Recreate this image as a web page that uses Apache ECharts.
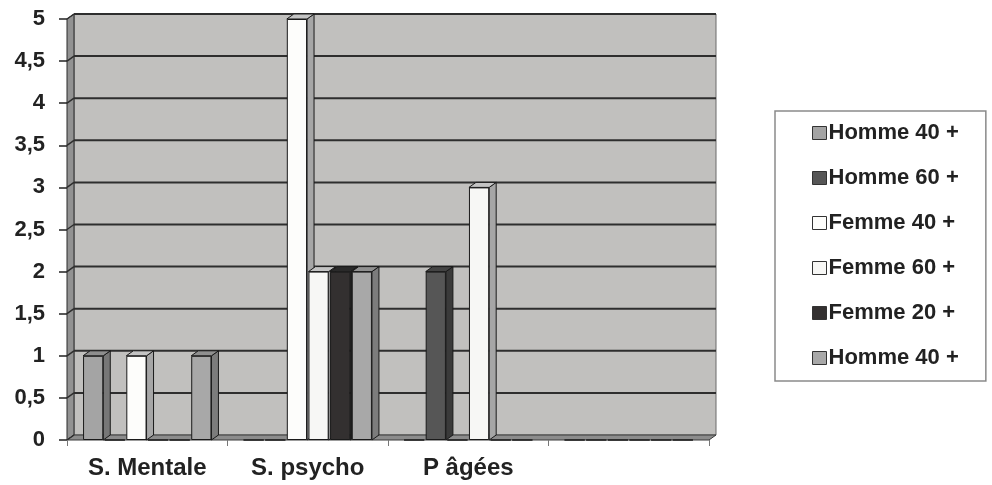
<!DOCTYPE html>
<html>
<head>
<meta charset="utf-8">
<script src="https://cdn.jsdelivr.net/npm/echarts@6/dist/echarts.min.js"></script>
<style>html,body{margin:0;padding:0;background:#fff}#c{width:992px;height:485px}</style>
</head>
<body>
<div id="c"></div>
<script>
// ---- data ----
const categories = ['S. Mentale', 'S. psycho', 'P âgées', ''];
const seriesNames = ['Homme 40 +', 'Homme 60 +', 'Femme 40 +', 'Femme 60 +', 'Femme 20 +', 'Homme 40 + '];
const homme40a = [1, 0, 0, 0];
const homme60  = [0, 0, 2, 0];
const femme40  = [1, 5, 0, 0];
const femme60  = [0, 2, 3, 0];
const femme20  = [0, 2, 0, 0];
const homme40b = [1, 2, 0, 0];
const yTicks = [0, 0.5, 1, 1.5, 2, 2.5, 3, 3.5, 4, 4.5, 5];

// ---- styles ----
const seriesValues = [homme40a, homme60, femme40, femme60, femme20, homme40b];
const FRONT = ['#a4a4a4', '#565656', '#fdfdfb', '#f7f7f5', '#333030', '#a8a8a8'];
const SIDE  = ['#777777', '#3a3a3a', '#a6a6a6', '#a6a6a6', '#1e1e1e', '#7c7c7c'];
const TOP   = ['#8e8e8e', '#444444', '#c4c4c4', '#c4c4c4', '#2a2a2a', '#909090'];
const DX = 7, DY = 5;
const FONT = 'Liberation Sans, Arial, sans-serif';

const chart = echarts.init(document.getElementById('c'), null, {renderer: 'canvas'});

function renderWall(params, api) {
  const cs = params.coordSys;
  const x0 = cs.x, x1 = cs.x + cs.width, yT = cs.y, yB = cs.y + cs.height;
  const children = [];
  children.push({type: 'rect', shape: {x: x0 + DX, y: yT - DY, width: cs.width, height: cs.height},
    style: {fill: '#c1c0be', stroke: '#6a6a6a', lineWidth: 1}});
  children.push({type: 'polygon', shape: {points: [[x0, yB], [x0, yT], [x0 + DX, yT - DY], [x0 + DX, yB - DY]]},
    style: {fill: '#929292', stroke: '#2a2a2a', lineWidth: 1}});
  children.push({type: 'polygon', shape: {points: [[x0, yB], [x1, yB], [x1 + DX, yB - DY], [x0 + DX, yB - DY]]},
    style: {fill: '#8c8c8c', stroke: '#3a3a3a', lineWidth: 1}});
  yTicks.forEach(function (v) {
    const y = api.coord([0, v])[1];
    if (v > 0) {
      children.push({type: 'line', shape: {x1: x0 + DX, y1: y - DY, x2: x1 + DX, y2: y - DY},
        style: {stroke: '#2e2e2e', lineWidth: 2}});
    }
    children.push({type: 'line', shape: {x1: x0, y1: y, x2: x0 + DX, y2: y - DY},
      style: {stroke: '#2e2e2e', lineWidth: 1.5}});
  });
  return {type: 'group', children: children};
}

function renderFaces(params, api) {
  const c = api.value(0), v = api.value(1), s = api.value(2);
  const band = api.size([1, 0])[0];
  const bw = band * 0.8 / (6 + 5 * 0.07);
  const gap = bw * 0.07;
  const start = api.coord([c, 0])[0] - band * 0.4;
  const xL = start + s * (bw + gap), xR = xL + bw;
  const yTop = api.coord([c, v])[1];
  const yB = api.coord([c, 0])[1];
  return {type: 'group', children: [
    {type: 'polygon', shape: {points: [[xR, yTop], [xR + DX, yTop - DY], [xR + DX, yB - DY], [xR, yB]]},
      style: {fill: SIDE[s], stroke: '#1a1a1a', lineWidth: 1}},
    {type: 'polygon', shape: {points: [[xL, yTop], [xR, yTop], [xR + DX, yTop - DY], [xL + DX, yTop - DY]]},
      style: {fill: TOP[s], stroke: '#1a1a1a', lineWidth: 1}}
  ]};
}

const faceData = [];
seriesValues.forEach(function (arr, s) {
  arr.forEach(function (v, c) { if (v > 0) faceData.push([c, v, s]); });
});

const series = [
  {type: 'custom', name: 'wall', z: 0, silent: true, renderItem: renderWall, data: [[0, 0]], clip: false},
  {type: 'custom', name: 'faces', z: 1, silent: true, renderItem: renderFaces, data: faceData, clip: false}
];
seriesValues.forEach(function (arr, s) {
  series.push({
    type: 'bar', name: seriesNames[s], data: arr, z: 2,
    barGap: '7%', barCategoryGap: '20%',
    itemStyle: {color: FRONT[s], borderColor: '#1a1a1a', borderWidth: 1},
    emphasis: {disabled: true}
  });
});

chart.setOption({
  animation: false,
  grid: {left: 67, right: 283, top: 19, bottom: 45, containLabel: false},
  xAxis: {
    type: 'category', data: categories,
    axisLine: {show: false},
    axisTick: {show: true, length: 6, lineStyle: {color: '#777', width: 1}},
    axisLabel: {margin: 16, fontFamily: FONT, fontWeight: 'bold', fontSize: 24, color: '#222'},
    splitLine: {show: false}
  },
  yAxis: {
    type: 'value', min: 0, max: 5, interval: 0.5,
    axisLine: {show: false},
    axisTick: {show: true, length: 8, lineStyle: {color: '#222', width: 1.5}},
    axisLabel: {margin: 22, fontFamily: FONT, fontWeight: 'bold', fontSize: 22, color: '#222',
      formatter: function (v) { return String(v).replace('.', ','); }},
    splitLine: {show: false}
  },
  legend: {
    data: seriesNames,
    orient: 'vertical', left: 775, top: 111,
    padding: [11, 21, 12, 37],
    borderColor: '#8a8a8a', borderWidth: 1.5,
    itemGap: 23, itemWidth: 14, itemHeight: 13, icon: 'rect',
    itemStyle: {borderColor: '#333', borderWidth: 1},
    textStyle: {fontFamily: FONT, fontWeight: 'bold', fontSize: 22, color: '#222', padding: [0, 0, 0, -3]},
    selectedMode: false
  },
  series: series
});
</script>
</body>
</html>
